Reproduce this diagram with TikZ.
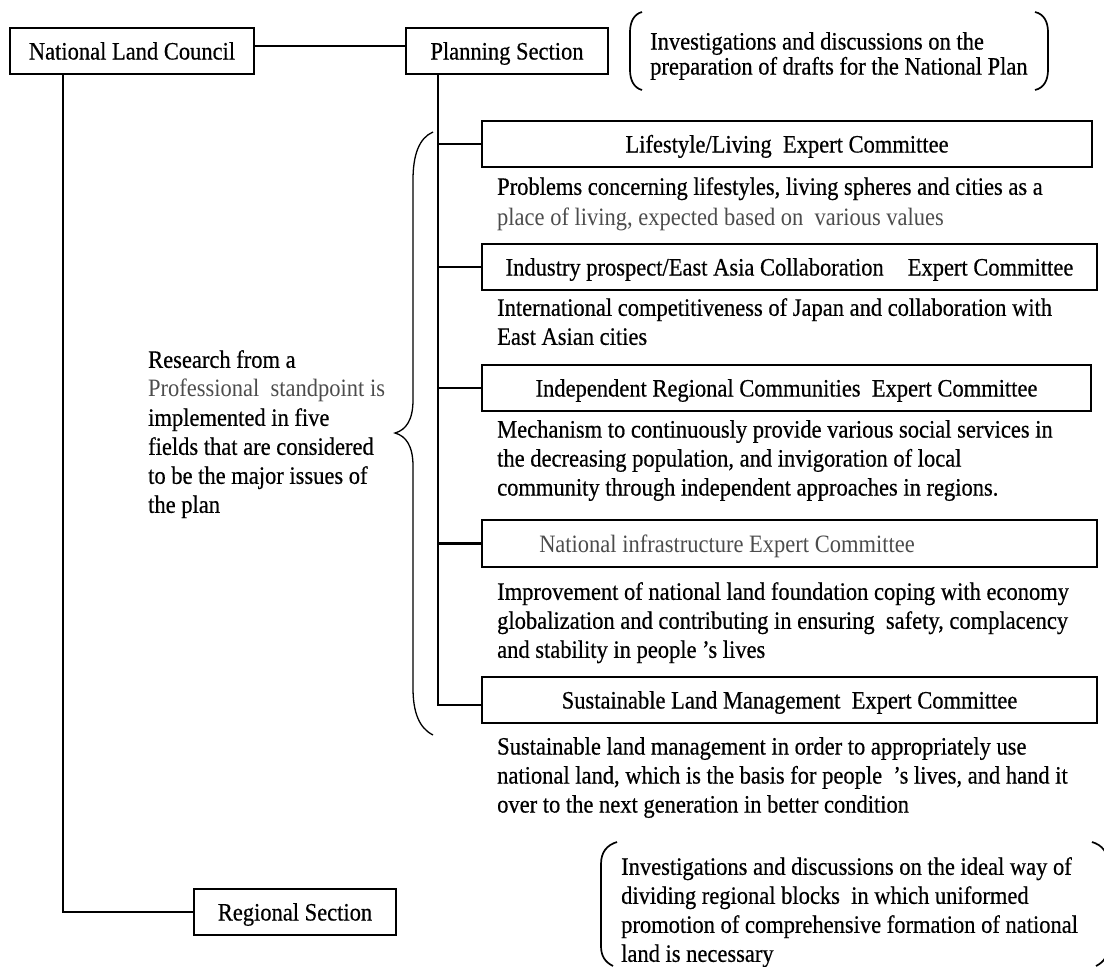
\documentclass[tikz,border=0pt]{standalone}
\usepackage{fontspec}
\setmainfont{Liberation Serif}[FakeStretch=0.9,FakeBold=0.5]
\newfontfamily\lightfont{Liberation Serif}[FakeStretch=0.9]
\newcommand\mainsz{\fontsize{25}{29}\selectfont}
\newcommand\topsz{\fontsize{25}{25}\selectfont}
\definecolor{gtext}{gray}{0.30}
\newcommand\graytext[1]{{\lightfont\color{gtext}#1}}
\begin{document}
\begin{tikzpicture}[x=1pt,y=-1pt,
  box/.style={draw, line width=2.1pt, minimum height=46pt, inner sep=0pt,
              text height=18pt, text depth=1pt, font=\mainsz},
  conn/.style={line width=2.1pt},
  desc/.style={anchor=north west, inner sep=0pt, align=left, font=\mainsz},
  paren/.style={line width=1.7pt},
  bracestyle/.style={line width=1.3pt}]
\useasboundingbox (0,0) rectangle (1104,967);

% section boxes
\node[box, minimum width=244pt] (nlc) at (132,51) {National Land Council};
\node[box, minimum width=202pt] (ps)  at (507,51) {Planning Section};
\node[box, minimum width=202pt] (reg) at (295,912) {Regional Section};

% committee boxes
\node[box, minimum width=610pt] (life)  at (787,144) {Lifestyle/Living\ \ Expert Committee};
\node[box, minimum width=615pt] (ind)   at (789.5,267) {Industry prospect/East Asia Collaboration\hspace{24pt}Expert Committee};
\node[box, minimum width=609pt] (indep) at (786.5,388) {Independent Regional Communities\ \ Expert Committee};
\node[box, minimum width=615pt, minimum height=47pt] (infra) at (789.5,543.5) {\graytext{National infrastructure Expert Committee}\hspace*{125pt}\mbox{}};
\node[box, minimum width=615pt] (sus)   at (789.5,700) {Sustainable Land Management\ \ Expert Committee};

% descriptions
\node[desc] (lifed) at (497,177) {Problems concerning lifestyles, living spheres and cities as a\\[2pt]
  \graytext{place of living, expected based on\ \ various values}};
\node[desc] (indd) at (497,298) {International competitiveness of Japan and collaboration with\\
  East Asian cities};
\node[desc] (indepd) at (497,420) {Mechanism to continuously provide various social services in\\
  the decreasing population, and invigoration of local\\
  community through independent approaches in regions.};
\node[desc] (infrad) at (497,582) {Improvement of national land foundation coping with economy\\
  globalization and contributing in ensuring\ \ safety, complacency\\
  and stability in people ’s lives};
\node[desc] (susd) at (497,737) {Sustainable land management in order to appropriately use\\
  national land, which is the basis for people\ \ ’s lives, and hand it\\
  over to the next generation in better condition};
\node[desc] (research) at (148,350) {Research from a\\
  \graytext{Professional\ \ standpoint is}\\
  implemented in five\\
  fields that are considered\\
  to be the major issues of\\
  the plan};
\node[desc, font=\topsz] (topnote) at (650,32) {Investigations and discussions on the\\
  preparation of drafts for the National Plan};
\node[desc] (botnote) at (621,857) {Investigations and discussions on the ideal way of\\
  dividing regional blocks\ \ in which uniformed\\
  promotion of comprehensive formation of national\\
  land is necessary};

% connectors
\draw[conn] ([yshift=5pt]nlc.east) -- ([yshift=5pt]ps.west);
\draw[conn] ([xshift=54.4pt]nlc.south west) |- (reg.west);
\draw[conn] ([xshift=33pt]ps.south west) |- ([yshift=-5pt]sus.west);
\draw[conn] ([xshift=33pt]ps.south west) |- (life.west);
\draw[conn] ([xshift=33pt]ps.south west) |- (ind.west);
\draw[conn] ([xshift=33pt]ps.south west) |- (indep.west);
\draw[conn] ([xshift=33pt]ps.south west) |- (infra.west);

% curly brace
\draw[bracestyle] (433,132) .. controls (419,138) and (413,155) .. (413,180)
  -- (413,400) .. controls (413,420) and (406,430) .. (395,433)
  .. controls (406,436) and (413,446) .. (413,466)
  -- (413,688) .. controls (413,712) and (419,728) .. (433,735);

% parentheses around top note
\draw[paren] (642,12) .. controls (634,14) and (630,22) .. (630,32)
  -- (630,70) .. controls (630,80) and (634,88) .. (642,90);
\draw[paren] (1035,12) .. controls (1044,14) and (1048,22) .. (1048,32)
  -- (1048,70) .. controls (1048,80) and (1044,88) .. (1035,90);

% parentheses around bottom note
\begin{scope}
\clip (0,0) rectangle (1104,967);
\draw[paren] (617,842) .. controls (607,845) and (601,852) .. (601,864)
  -- (601,946) .. controls (601,956) and (605,962) .. (613,966);
\draw[paren] (1092,842) .. controls (1102,845) and (1108,852) .. (1108,864)
  -- (1108,946) .. controls (1108,956) and (1104,962) .. (1096,966);
\end{scope}
\end{tikzpicture}
\end{document}
